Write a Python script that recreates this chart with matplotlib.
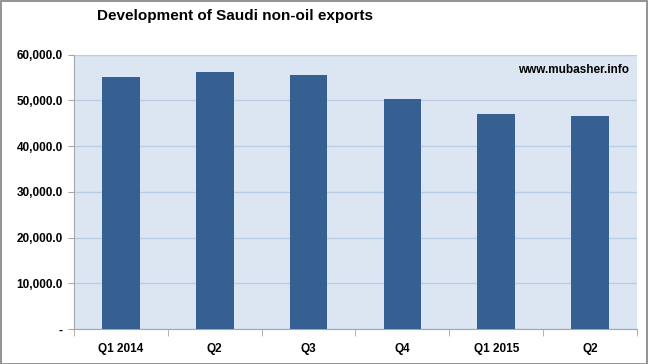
import matplotlib
matplotlib.use("Agg")
import matplotlib.pyplot as plt
from matplotlib.patches import Rectangle
from matplotlib import font_manager

categories = ["Q1 2014", "Q2", "Q3", "Q4", "Q1 2015", "Q2"]
values = [55030, 56130, 55470, 50220, 46940, 46500]
yticks = [0, 10000, 20000, 30000, 40000, 50000, 60000]
ytick_labels = ["-"] + [f"{v:,.1f}" for v in yticks[1:]]

plt.rcParams['font.family'] = ['Liberation Sans', 'DejaVu Sans']

names = {f.name for f in font_manager.fontManager.ttflist}
title_family = ['Liberation Sans Narrow', 'Liberation Sans'] if 'Liberation Sans Narrow' in names else ['Liberation Sans']
title_size = 13.5 if 'Liberation Sans Narrow' in names else 11

fig = plt.figure(figsize=(6.48, 3.64), dpi=100)
ax = fig.add_axes([0.1142, 0.0962, 0.8688, 0.7538])
ax.set_facecolor("#DCE6F2")

x = list(range(len(categories)))
ax.bar(x, values, width=0.4, color="#366092", zorder=3)
ax.set_xlim(-0.5, len(categories) - 0.5)
ax.set_ylim(0, 60000)
ax.set_yticks(yticks)
ax.set_yticklabels(ytick_labels, fontsize=8.5, fontweight="bold")
ax.yaxis.grid(True, color="#B9CDE5", linewidth=1, zorder=0)

ax.set_xticks(x)
ax.set_xticklabels(categories, fontsize=8.5, fontweight="bold")
ax.tick_params(axis="x", length=0, pad=10)
ax.set_xticks([i - 0.5 for i in range(len(categories) + 1)], minor=True)
ax.tick_params(axis="x", which="minor", length=5, color="#A6A6A6")
ax.tick_params(axis="y", length=4, color="#A6A6A6", pad=4)

for s in ["top", "right"]:
    ax.spines[s].set_visible(False)
for s in ["left", "bottom"]:
    ax.spines[s].set_color("#A6A6A6")

ax.text(0.985, 0.965, "www.mubasher.info", transform=ax.transAxes,
        ha="right", va="top", fontsize=8.5, fontweight="bold")

fig.text(0.15, 0.955, "Development of Saudi non-oil exports", fontsize=title_size,
         fontweight="bold", ha="left", va="center", family=title_family)

fig.patches.append(Rectangle((0.001, 0.001), 0.997, 0.996, transform=fig.transFigure,
                             fill=False, edgecolor="#808080", linewidth=1.2))

fig.savefig("out.png", dpi=100)
